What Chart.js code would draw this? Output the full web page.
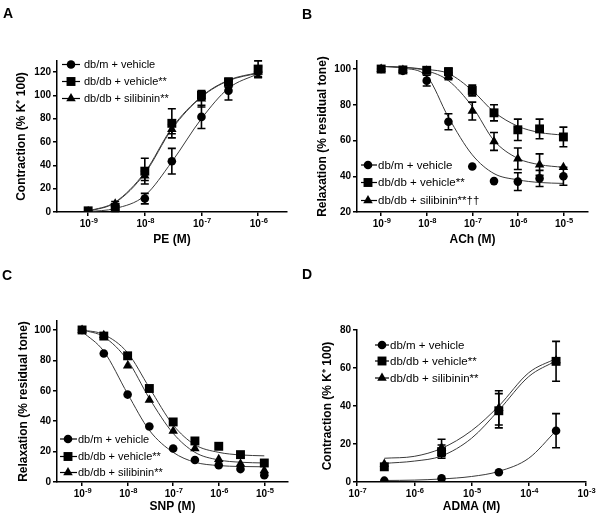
<!DOCTYPE html>
<html><head><meta charset="utf-8">
<script src="https://cdn.jsdelivr.net/npm/chart.js@4.4.1/dist/chart.umd.min.js"></script>
<style>
html,body{margin:0;padding:0;background:#fff;}
#wrap{position:relative;width:600px;height:521px;overflow:hidden;background:#fff;}
.panel{position:absolute;}
.letter{position:absolute;font:bold 14px "Liberation Sans",Arial,sans-serif;line-height:14px;color:#000;}
</style></head><body>
<div id="wrap">
  <div class="panel" style="left:0;top:0;width:300px;height:260px"><canvas id="cA" width="300" height="260"></canvas></div>
  <div class="panel" style="left:300px;top:0;width:300px;height:260px"><canvas id="cB" width="300" height="260"></canvas></div>
  <div class="panel" style="left:0;top:260px;width:300px;height:261px"><canvas id="cC" width="300" height="261"></canvas></div>
  <div class="panel" style="left:300px;top:260px;width:300px;height:261px"><canvas id="cD" width="300" height="261"></canvas></div>
  <div class="letter" style="left:3px;top:6px">A</div>
  <div class="letter" style="left:302px;top:7px">B</div>
  <div class="letter" style="left:2px;top:268px">C</div>
  <div class="letter" style="left:302px;top:267px">D</div>
</div>
<script>
// ---------- Series labels ----------
const labelsA = ['db/m + vehicle', 'db/db + vehicle**', 'db/db + silibinin**'];
const labelsB = ['db/m + vehicle', 'db/db + vehicle**', 'db/db + silibinin**\u2020\u2020'];
const labelsC = ['db/m + vehicle', 'db/db + vehicle**', 'db/db + silibinin**'];
const labelsD = ['db/m + vehicle', 'db/db + vehicle**', 'db/db + silibinin**'];

// ---------- Panel A: PE ----------
const A_x        = [1e-9, 3e-9, 1e-8, 3e-8, 1e-7, 3e-7, 1e-6];
const A_dbm      = [0.5, 2, 11.5, 43.5, 81.5, 104, 120];
const A_dbm_err  = [0, 1.5, 4.5, 11, 10, 8, 5];
const A_veh      = [1, 4, 35, 76, 100, 111.5, 122.5];
const A_veh_err  = [0, 1, 11, 12.5, 3, 3, 7];
const A_sil      = [0.5, 7, 31, 71, 97, 110, 120];
const A_sil_err  = [0, 2, 4, 4, 7, 3, 4];
const A_fitX     = [1e-9, 3e-9, 1e-8, 3e-8, 1e-7, 3e-7, 1e-6];
const A_fit_dbm  = [0.3, 3, 14, 43, 80, 106, 118.5];
const A_fit_veh  = [0.8, 8.5, 34, 72, 99, 113, 119.5];
const A_fit_sil  = [0.5, 8, 33, 71, 98.5, 112.5, 119];
const A_xticks   = [1e-9, 1e-8, 1e-7, 1e-6];
const A_xlabels  = ['10^-9', '10^-8', '10^-7', '10^-6'];
const A_yticks   = [0, 20, 40, 60, 80, 100, 120];

// ---------- Panel B: ACh ----------
const B_x        = [1e-9, 3e-9, 1e-8, 3e-8, 1e-7, 3e-7, 1e-6, 3e-6, 1e-5];
const B_dbm      = [100, 99, 93.5, 70.5, 45.5, 37.3, 37, 38.8, 40];
const B_dbm_err  = [0, 0.5, 3, 4.5, 0, 0, 5, 4.5, 5];
const B_veh      = [100, 99.5, 99.3, 98.5, 88, 75.5, 66, 66.5, 62];
const B_veh_err  = [0, 0, 0, 2, 3, 4.5, 6, 5.5, 5.5];
const B_sil      = [100, 99.5, 99, 96, 76.5, 59.5, 49.8, 46.5, 45];
const B_sil_err  = [0, 0, 0, 2, 5, 5, 6, 6, 0];
const B_fitX     = [1e-9, 3e-9, 1e-8, 3e-8, 1e-7, 3e-7, 1e-6, 3e-6, 1e-5];
const B_fit_dbm  = [101.5, 100.5, 96, 73, 52, 41.5, 38, 36.5, 36];
const B_fit_veh  = [101.5, 101, 99.8, 97.5, 88, 76, 68, 64.5, 63];
const B_fit_sil  = [101.5, 101, 99, 93.5, 79, 60, 50, 46.5, 45];
const B_xticks   = [1e-9, 1e-8, 1e-7, 1e-6, 1e-5];
const B_xlabels  = ['10^-9', '10^-8', '10^-7', '10^-6', '10^-5'];
const B_yticks   = [20, 40, 60, 80, 100];

// ---------- Panel C: SNP ----------
const C_x        = [1e-9, 3e-9, 1e-8, 3e-8, 1e-7, 3e-7, 1e-6, 3e-6, 1e-5];
const C_dbm      = [100, 84.5, 57.5, 36.5, 22, 14.5, 11, 8.5, 4.5];
const C_veh      = [100, 96, 83, 61.5, 39.5, 27, 23.5, 18, 12.5];
const C_sil      = [100, 96.5, 76.5, 54, 33.5, 22, 15, 12, 7.5];
const C_err      = [0, 0, 0, 0, 0, 0, 0, 0, 0];
const C_fitX     = [1e-9, 3e-9, 1e-8, 3e-8, 1e-7, 3e-7, 1e-6, 3e-6, 1e-5];
const C_fit_dbm  = [99, 86, 58, 34, 19.5, 13, 10.8, 10.2, 10];
const C_fit_veh  = [100, 97, 85, 62, 37.5, 24.5, 19.5, 17.8, 17.2];
const C_fit_sil  = [100, 95.5, 80, 55, 32, 19.5, 14.5, 13, 12.5];
const C_xticks   = [1e-9, 1e-8, 1e-7, 1e-6, 1e-5];
const C_xlabels  = ['10^-9', '10^-8', '10^-7', '10^-6', '10^-5'];
const C_yticks   = [0, 20, 40, 60, 80, 100];

// ---------- Panel D: ADMA ----------
const D_x        = [3e-7, 3e-6, 3e-5, 3e-4];
const D_dbm      = [0.7, 1.9, 5.1, 27];
const D_dbm_err  = [0, 0, 0, 9];
const D_veh      = [8, 16, 37.5, 63.5];
const D_veh_err  = [0, 3.5, 9, 10.5];
const D_sil      = [9.5, 18, 39, 64];
const D_sil_err  = [0, 4.5, 9, 0];
const D_fitX     = [3e-7, 1e-6, 3e-6, 1e-5, 3e-5, 1e-4, 3e-4];
const D_fit_dbm  = [0.8, 1.0, 1.6, 2.9, 5.6, 12.5, 27];
const D_fit_veh  = [9.8, 11, 13.7, 23, 37.8, 55.5, 63.8];
const D_fit_sil  = [12.5, 13.5, 17.7, 27, 40, 57.5, 65];
const D_xticks   = [1e-7, 1e-6, 1e-5, 1e-4, 1e-3];
const D_xlabels  = ['10^-7', '10^-6', '10^-5', '10^-4', '10^-3'];
const D_yticks   = [0, 20, 40, 60, 80];

// ---------- Styling ----------
const FONT = '"Liberation Sans", Arial, Helvetica, sans-serif';
const MARKERS = [
  {style: 'circle',   r: 4.3},
  {style: 'rect',     r: 6.3},
  {style: 'triangle', r: 5.5}
];

function drawMarker(ctx, style, x, y, r) {
  ctx.beginPath();
  if (style === 'circle') {
    ctx.arc(x, y, r, 0, Math.PI * 2);
  } else if (style === 'rect') {
    const s = Math.SQRT1_2 * r;
    ctx.rect(x - s, y - s, 2 * s, 2 * s);
  } else {
    let a = 0;
    ctx.moveTo(x + Math.sin(a) * r, y - Math.cos(a) * r);
    a += 2 * Math.PI / 3;
    ctx.lineTo(x + Math.sin(a) * r, y - Math.cos(a) * r);
    a += 2 * Math.PI / 3;
    ctx.lineTo(x + Math.sin(a) * r, y - Math.cos(a) * r);
    ctx.closePath();
  }
  ctx.fillStyle = '#000';
  ctx.fill();
}

const errorBarPlugin = {
  id: 'errorBars',
  afterDatasetsDraw(chart) {
    const ctx = chart.ctx;
    const ys = chart.scales.y;
    ctx.save();
    ctx.strokeStyle = '#000';
    ctx.lineWidth = 1.6;
    chart.data.datasets.forEach((ds, i) => {
      if (!ds.errorBars) return;
      const meta = chart.getDatasetMeta(i);
      meta.data.forEach((pt, j) => {
        const e = ds.errorBars[j];
        if (!e) return;
        const v = ds.data[j].y;
        const yTop = ys.getPixelForValue(v + e);
        const yBot = ys.getPixelForValue(v - e);
        const x = pt.x;
        ctx.beginPath();
        ctx.moveTo(x, yTop); ctx.lineTo(x, yBot);
        ctx.moveTo(x - 4, yTop); ctx.lineTo(x + 4, yTop);
        ctx.moveTo(x - 4, yBot); ctx.lineTo(x + 4, yBot);
        ctx.stroke();
      });
    });
    ctx.restore();
  }
};

// Draws "10" with a raised exponent under each x tick, placed by the x scale.
const powerTickPlugin = {
  id: 'powerTicks',
  afterDraw(chart, args, opts) {
    const ctx = chart.ctx;
    const xs = chart.scales.x;
    ctx.save();
    ctx.fillStyle = '#000';
    ctx.textBaseline = 'middle';
    ctx.textAlign = 'left';
    const y = xs.top + 12.5;
    opts.ticks.forEach((v, i) => {
      const parts = opts.labels[i].split('^');
      const px = xs.getPixelForValue(v);
      ctx.font = 'bold 10px ' + FONT;
      const wb = ctx.measureText(parts[0]).width;
      ctx.font = 'bold 7.5px ' + FONT;
      const we = ctx.measureText(parts[1]).width;
      const x0 = px - (wb + we) / 2 + 0.5;
      ctx.font = 'bold 10px ' + FONT;
      ctx.fillText(parts[0], x0, y);
      ctx.font = 'bold 7.5px ' + FONT;
      ctx.fillText(parts[1], x0 + wb + 0.3, y - 3.5);
    });
    ctx.restore();
  }
};

const legendPlugin = {
  id: 'protoLegend',
  afterDraw(chart, args, opts) {
    const ctx = chart.ctx;
    ctx.save();
    opts.rows.forEach((y, i) => {
      const ds = chart.data.datasets[i];
      ctx.strokeStyle = '#000';
      ctx.lineWidth = 1.2;
      ctx.beginPath();
      ctx.moveTo(opts.x0, y); ctx.lineTo(opts.x1, y);
      ctx.stroke();
      drawMarker(ctx, MARKERS[i].style, opts.xm, y, MARKERS[i].r);
      ctx.fillStyle = '#000';
      ctx.font = opts.fontSize + 'px ' + FONT;
      ctx.textBaseline = 'middle';
      ctx.textAlign = 'left';
      ctx.fillText(ds.label, opts.xt, y + 0.5);
    });
    ctx.restore();
  }
};

function pts(xs, ys) { return xs.map((x, i) => ({x: x, y: ys[i]})); }

function buildPanel(id, p) {
  const datasets = [];
  p.series.forEach((s, i) => {
    datasets.push({
      label: p.labels[i],
      data: pts(p.x, s.y),
      errorBars: s.err,
      showLine: false,
      pointStyle: MARKERS[i].style,
      pointRadius: MARKERS[i].r,
      pointBackgroundColor: '#000',
      pointBorderColor: '#000',
      pointBorderWidth: 0,
      order: 0
    });
  });
  p.fits.forEach((f) => {
    datasets.push({
      label: '',
      data: pts(p.fitX, f),
      borderColor: '#3a3a3a',
      borderWidth: 1,
      pointRadius: 0,
      fill: false,
      cubicInterpolationMode: 'monotone',
      order: 1
    });
  });
  const tickFont = {family: FONT, size: 10, weight: 'bold'};
  const titleFont = {family: FONT, size: 12, weight: 'bold'};
  return new Chart(document.getElementById(id), {
    type: 'line',
    data: {datasets: datasets},
    plugins: [errorBarPlugin, legendPlugin, powerTickPlugin],
    options: {
      responsive: false,
      animation: false,
      devicePixelRatio: 1,
      layout: {padding: {left: 0, top: p.top, right: p.right, bottom: 0}},
      plugins: {
        legend: {display: false},
        tooltip: {enabled: false},
        protoLegend: p.legend,
        powerTicks: {ticks: p.xticks, labels: p.xlabels}
      },
      scales: {
        x: {
          type: 'logarithmic',
          min: p.xmin, max: p.xmax,
          afterBuildTicks: (s) => { s.ticks = p.xticks.map(v => ({value: v})); },
          afterFit: (s) => { s.height = p.xh; },
          ticks: {display: false, autoSkip: false},
          grid: {display: true, drawOnChartArea: false, drawTicks: true, tickLength: 4, color: '#000', lineWidth: 1.5},
          border: {display: true, color: '#000', width: 1.5},
          title: {display: true, text: p.xtitle, font: titleFont, color: '#000', padding: {top: 0, bottom: p.xtpad}}
        },
        y: {
          type: 'linear',
          min: p.ymin, max: p.ymax,
          afterBuildTicks: (s) => { s.ticks = p.yticks.map(v => ({value: v})); },
          afterFit: (s) => { s.width = 57; },
          ticks: {font: tickFont, color: '#000', padding: 2},
          grid: {display: true, drawOnChartArea: false, drawTicks: true, tickLength: 4, color: '#000', lineWidth: 1.5},
          border: {display: true, color: '#000', width: 1.5},
          title: {display: true, text: p.ytitle, font: titleFont, color: '#000', padding: {top: p.ytpad, bottom: 0}}
        }
      }
    }
  });
}

buildPanel('cA', {
  labels: labelsA, x: A_x,
  series: [{y: A_dbm, err: A_dbm_err}, {y: A_veh, err: A_veh_err}, {y: A_sil, err: A_sil_err}],
  fitX: A_fitX, fits: [A_fit_dbm, A_fit_veh, A_fit_sil],
  xticks: A_xticks, xlabels: A_xlabels, yticks: A_yticks,
  xmin: Math.pow(10, -9.55), xmax: Math.pow(10, -5.49), ymin: 0, ymax: 129.4,
  top: 61, right: 13, xh: 48, xtpad: 13, ytpad: 14,
  xtitle: 'PE (M)', ytitle: 'Contraction (% K\u207A 100)',
  legend: {rows: [64.5, 81.5, 98.5], x0: 62, x1: 80, xm: 71, xt: 84, fontSize: 11}
});

buildPanel('cB', {
  labels: labelsB, x: B_x,
  series: [{y: B_dbm, err: B_dbm_err}, {y: B_veh, err: B_veh_err}, {y: B_sil, err: B_sil_err}],
  fitX: B_fitX, fits: [B_fit_dbm, B_fit_veh, B_fit_sil],
  xticks: B_xticks, xlabels: B_xlabels, yticks: B_yticks,
  xmin: Math.pow(10, -9.53), xmax: Math.pow(10, -4.46), ymin: 20, ymax: 104.5,
  top: 61, right: 12, xh: 48, xtpad: 13, ytpad: 15.5,
  xtitle: 'ACh (M)', ytitle: 'Relaxation (% residual tone)',
  legend: {rows: [165, 182.5, 200.5], x0: 61, x1: 77, xm: 68, xt: 78, fontSize: 11.5}
});

buildPanel('cC', {
  labels: labelsC, x: C_x,
  series: [{y: C_dbm, err: C_err}, {y: C_veh, err: C_err}, {y: C_sil, err: C_err}],
  fitX: C_fitX, fits: [C_fit_dbm, C_fit_veh, C_fit_sil],
  xticks: C_xticks, xlabels: C_xlabels, yticks: C_yticks,
  xmin: Math.pow(10, -9.55), xmax: Math.pow(10, -4.48), ymin: 0, ymax: 105.9,
  top: 61, right: 12, xh: 39, xtpad: 7, ytpad: 16,
  xtitle: 'SNP (M)', ytitle: 'Relaxation (% residual tone)',
  legend: {rows: [179, 196.5, 212.5], x0: 60, x1: 77, xm: 68, xt: 78, fontSize: 11}
});

buildPanel('cD', {
  labels: labelsD, x: D_x,
  series: [{y: D_dbm, err: D_dbm_err}, {y: D_veh, err: D_veh_err}, {y: D_sil, err: D_sil_err}],
  fitX: D_fitX, fits: [D_fit_dbm, D_fit_veh, D_fit_sil],
  xticks: D_xticks, xlabels: D_xlabels, yticks: D_yticks,
  xmin: 1e-7, xmax: 1e-3, ymin: 0, ymax: 80,
  top: 70, right: 14, xh: 39, xtpad: 7, ytpad: 20.5,
  xtitle: 'ADMA (M)', ytitle: 'Contraction (% K\u207A 100)',
  legend: {rows: [85, 101, 118], x0: 75, x1: 89, xm: 82, xt: 90, fontSize: 11.5}
});
</script>
</body></html>
